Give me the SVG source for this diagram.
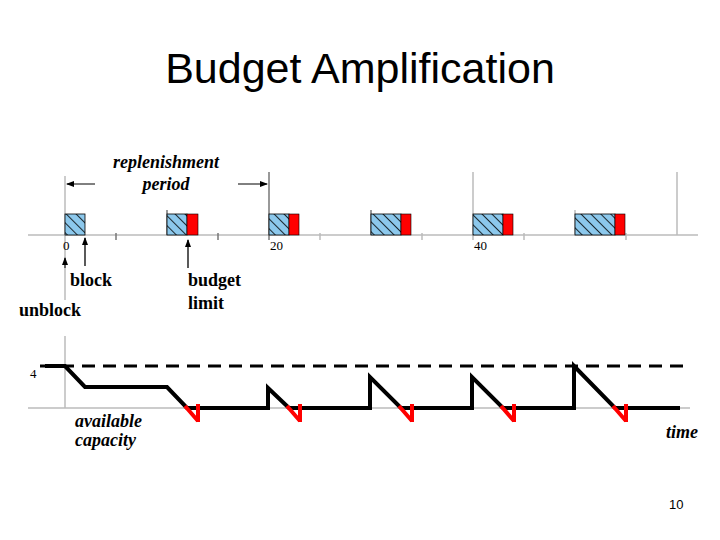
<svg xmlns="http://www.w3.org/2000/svg" width="720" height="540" viewBox="0 0 720 540">
<defs>
<pattern id="h" patternUnits="userSpaceOnUse" width="7" height="7" patternTransform="rotate(-45)">
<rect width="7" height="7" fill="#8cc8ec"/><line x1="0" y1="0" x2="0" y2="7" stroke="#000" stroke-width="1.6"/>
</pattern>
<marker id="a" markerWidth="8" markerHeight="8" refX="7" refY="4" orient="auto" markerUnits="userSpaceOnUse"><path d="M0,1 L8,4 L0,7 Z" fill="#000"/></marker>
</defs>
<style>
.t{font-family:"Liberation Serif",serif;font-weight:bold;font-size:18px}
.i{font-family:"Liberation Serif",serif;font-weight:bold;font-style:italic;font-size:18px}
.n{font-family:"Liberation Serif",serif;font-size:13px}
.b{fill:url(#h);stroke:#000;stroke-width:0.8}
.r{fill:#f00;stroke:#000;stroke-width:0.6}
.ax{stroke:#bbb;stroke-width:1.5;fill:none}
.tk{stroke:#777;stroke-width:1.5}
.bl{stroke:#000;stroke-width:4;fill:none;stroke-linejoin:miter}
.rd{stroke:#f00;stroke-width:4;fill:none}
</style>
<text x="360" y="83" text-anchor="middle" font-family="Liberation Sans,Arial,sans-serif" font-size="43">Budget Amplification</text>
<g id="timeline">
<line class="ax" x1="28" y1="235" x2="698" y2="235"/>
<line class="ax" x1="65" y1="176" x2="65" y2="300"/>
<line class="tk" x1="167" y1="210" x2="167" y2="235"/>
<line class="tk" x1="269" y1="172" x2="269" y2="240"/>
<line class="tk" x1="371" y1="210" x2="371" y2="235"/>
<line class="ax" x1="473" y1="172" x2="473" y2="240"/>
<line class="ax" x1="575" y1="210" x2="575" y2="235"/>
<line class="ax" x1="677" y1="172" x2="677" y2="235"/>
<line class="tk" x1="116" y1="233" x2="116" y2="240"/>
<line class="tk" x1="218" y1="233" x2="218" y2="240"/>
<line class="ax" x1="320" y1="233" x2="320" y2="240"/>
<line class="ax" x1="422" y1="233" x2="422" y2="240"/>
<line class="ax" x1="524" y1="233" x2="524" y2="240"/>
<line class="ax" x1="626" y1="233" x2="626" y2="240"/>
<text class="n" x="63" y="250">0</text>
<text class="n" x="270" y="250">20</text>
<text class="n" x="474" y="250">40</text>
</g>
<g id="bursts">
<rect class="b" x="65" y="214" width="20" height="21"/>
<rect class="b" x="167" y="214" width="20" height="21"/><rect class="r" x="187" y="214" width="11" height="21"/>
<rect class="b" x="269" y="214" width="20" height="21"/><rect class="r" x="289" y="214" width="10" height="21"/>
<rect class="b" x="371" y="214" width="30" height="21"/><rect class="r" x="401" y="214" width="10" height="21"/>
<rect class="b" x="473" y="214" width="30" height="21"/><rect class="r" x="503" y="214" width="10" height="21"/>
<rect class="b" x="575" y="214" width="40" height="21"/><rect class="r" x="615" y="214" width="10" height="21"/>
</g>
<g id="labels">
<text class="i" x="166" y="168" text-anchor="middle">replenishment</text>
<text class="i" x="166" y="190" text-anchor="middle">period</text>
<text class="t" x="70" y="286">block</text>
<text class="t" x="19" y="316">unblock</text>
<text class="t" x="188" y="286">budget</text>
<text class="t" x="188" y="309">limit</text>
<text class="i" x="75" y="427" font-size="17">available</text>
<text class="i" x="75" y="446" font-size="17">capacity</text>
<text class="i" x="666" y="438">time</text>
<text class="n" x="30" y="378">4</text>
<text x="669" y="509" font-family="Liberation Sans,Arial,sans-serif" font-size="13">10</text>
</g>
<g id="connectors" stroke="#000" stroke-width="1" fill="none">
<line x1="95" y1="184" x2="67" y2="184" marker-end="url(#a)"/>
<line x1="238" y1="184" x2="267" y2="184" marker-end="url(#a)"/>
<line x1="85" y1="266" x2="85" y2="238" marker-end="url(#a)" stroke-width="1.3"/>
<line x1="65" y1="268" x2="65" y2="258" marker-end="url(#a)"/>
<line x1="188" y1="268" x2="188" y2="240" marker-end="url(#a)" stroke-width="1.3"/>
</g>
<g id="capacity">
<line class="ax" x1="28" y1="408" x2="690" y2="408"/>
<line class="ax" x1="65" y1="336" x2="65" y2="408"/>
<line x1="40" y1="366" x2="690" y2="366" stroke="#000" stroke-width="3" stroke-dasharray="13,8"/>
<path class="bl" d="M45,366 L65,366 L85,387 L167,387 L187,408 L268,408 L268,388 L289,408 L370,408 L370,377 L401,408 L472,408 L472,377 L503,408 L574,408 L574,366 L615,408 L680,408"/>
<path class="rd" d="M185,406 L198,421 M198,404 L198,422"/>
<path class="rd" d="M287,406 L300,421 M300,404 L300,422"/>
<path class="rd" d="M399,406 L412,421 M412,404 L412,422"/>
<path class="rd" d="M501,406 L514,421 M514,404 L514,422"/>
<path class="rd" d="M613,406 L626,421 M626,404 L626,422"/>
</g>
</svg>
